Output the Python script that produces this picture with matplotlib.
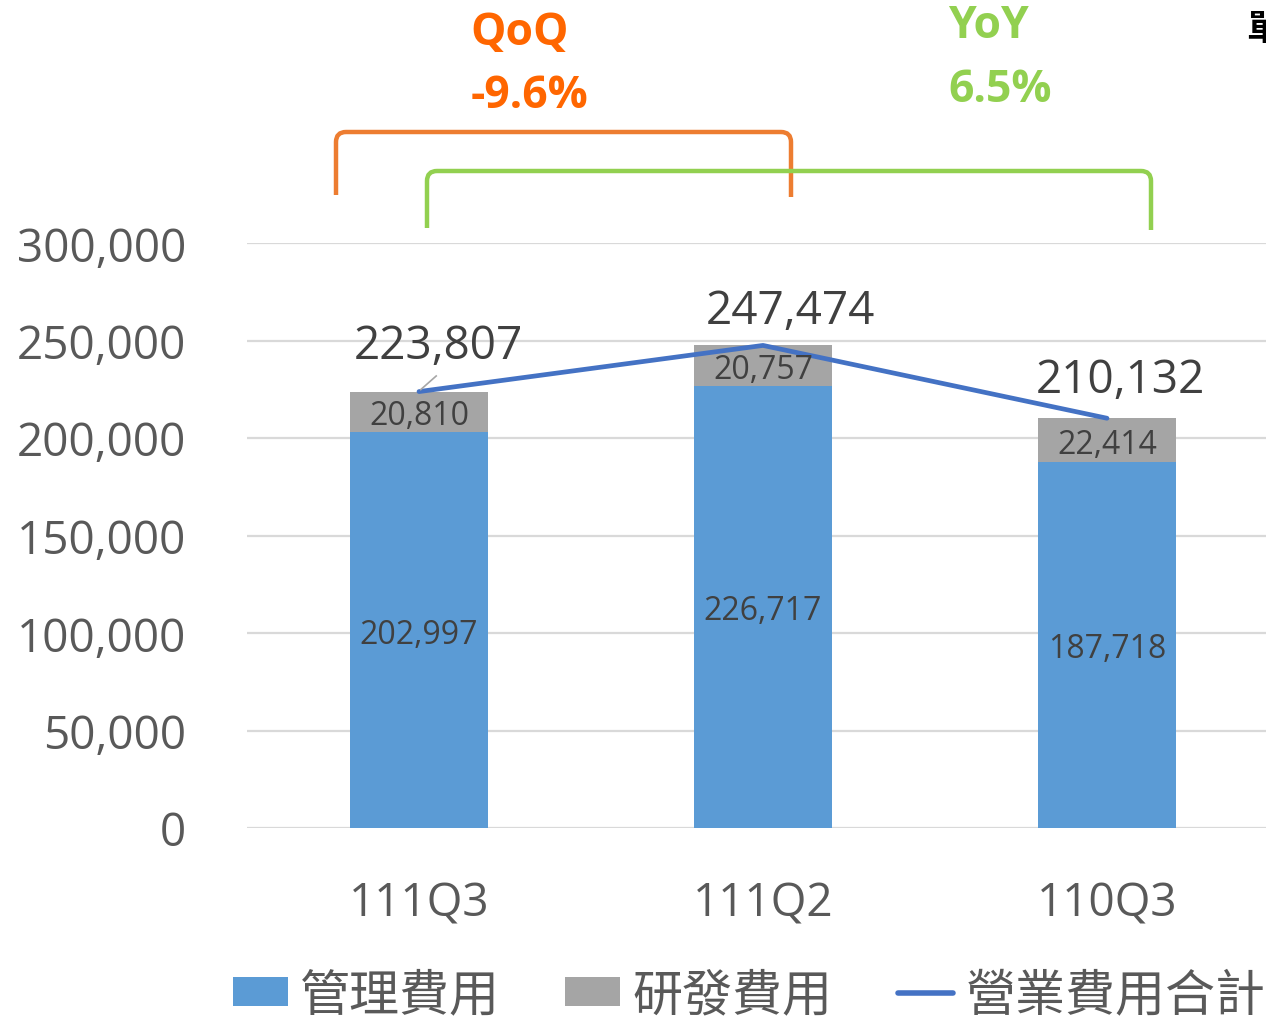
import matplotlib
matplotlib.use("Agg")
import matplotlib.pyplot as plt
from matplotlib.patches import Patch, PathPatch
from matplotlib.lines import Line2D
from matplotlib.path import Path
import numpy as np

plt.rcParams['font.family'] = ['Open Sans', 'Noto Sans CJK TC', 'DejaVu Sans']

categories = ["111Q3", "111Q2", "110Q3"]
admin_exp = [202997, 226717, 187718]
rd_exp = [20810, 20757, 22414]
totals = [223807, 247474, 210132]
yticks = [0, 50000, 100000, 150000, 200000, 250000, 300000]
legend_labels = ["管理費用", "研發費用", "營業費用合計"]
qoq_text = ["QoQ", "-9.6%"]
yoy_text = ["YoY", "6.5%"]

W, H = 1266, 1020
fig = plt.figure(figsize=(W / 100, H / 100), dpi=100)

def fx(x):
    return x / W

def fy(y):
    return 1 - y / H

ax = fig.add_axes([fx(247), fy(829), 1032 / W, 585 / H])
x = np.arange(len(categories))
blue = "#5B9BD5"
gray = "#A5A5A5"
linec = "#4472C4"
bw = 0.40

ax.bar(x, admin_exp, width=bw, color=blue, zorder=2)
ax.bar(x, rd_exp, width=bw, bottom=admin_exp, color=gray, zorder=2)
ax.plot(x, totals, color=linec, lw=3.4, zorder=4, solid_capstyle='round')

ax.set_xlim(-0.5, 2.5)
ax.set_ylim(0, 300000)
ax.set_yticks(yticks)
ax.set_yticklabels([f"{v:,}" for v in yticks])
ax.set_xticks(x)
ax.set_xticklabels(categories)
ax.tick_params(axis='both', length=0, labelsize=33, labelcolor="#595959")
ax.tick_params(axis='y', pad=44)
ax.tick_params(axis='x', pad=38)
ax.yaxis.grid(True, color="#D9D9D9", lw=1.6, zorder=0)
for s in ax.spines.values():
    s.set_visible(False)

lab_c = "#404040"
for i in range(len(categories)):
    ax.text(x[i], admin_exp[i] / 2, f"{admin_exp[i]:,}", ha='center', va='center_baseline',
            fontsize=23, color=lab_c, zorder=5)
    ax.text(x[i], admin_exp[i] + rd_exp[i] / 2, f"{rd_exp[i]:,}", ha='center', va='center_baseline',
            fontsize=23, color=lab_c, zorder=5)

# total labels
tot_offsets = [(0.055, 23500), (0.08, 17500), (0.04, 19500)]
for i in range(len(categories)):
    dx, dy = tot_offsets[i]
    ax.text(x[i] + dx, totals[i] + dy, f"{totals[i]:,}", ha='center', va='center',
            fontsize=33, color=lab_c, zorder=5)
# leader line for first label
ax.plot([x[0] + 0.005, x[0] + 0.05], [totals[0] + 1000, totals[0] + 8000],
        color="#A6A6A6", lw=1.2, zorder=5)

# brackets
def bracket(x0, x1, ytop, yb0, yb1, color, r=10):
    verts = [(fx(x0), fy(yb0)), (fx(x0), fy(ytop + r)), (fx(x0), fy(ytop)), (fx(x0 + r), fy(ytop)),
             (fx(x1 - r), fy(ytop)), (fx(x1), fy(ytop)), (fx(x1), fy(ytop + r)), (fx(x1), fy(yb1))]
    codes = [Path.MOVETO, Path.LINETO, Path.CURVE3, Path.CURVE3,
             Path.LINETO, Path.CURVE3, Path.CURVE3, Path.LINETO]
    p = PathPatch(Path(verts, codes), transform=fig.transFigure, fill=False,
                  edgecolor=color, lw=3.2, capstyle='butt', joinstyle='round')
    fig.add_artist(p)

bracket(336, 791, 133, 196, 198, "#ED7D31")
bracket(427, 1151, 172, 229, 231, "#92D050")

orange_t = "#FF6600"
green_t = "#92D050"
fig.text(fx(520), fy(33), qoq_text[0], ha='center', va='center', fontsize=32,
         fontweight='bold', color=orange_t)
fig.text(fx(530), fy(96), qoq_text[1], ha='center', va='center', fontsize=32,
         fontweight='bold', color=orange_t)
fig.text(fx(988), fy(27), yoy_text[0], ha='center', va='center', fontsize=32,
         fontweight='bold', color=green_t)
fig.text(fx(1000), fy(91), yoy_text[1], ha='center', va='center', fontsize=32,
         fontweight='bold', color=green_t)

fig.text(fx(1246), fy(30), "單位：千元", ha='left', va='center', fontsize=26,
         fontweight='bold', color="black", family=['Noto Sans CJK TC'])

handles = [Patch(facecolor=blue, edgecolor='none'),
           Patch(facecolor=gray, edgecolor='none'),
           Line2D([0], [0], color=linec, lw=4, solid_capstyle='round')]
leg = fig.legend(handles, legend_labels, loc='center', bbox_to_anchor=(fx(749), fy(996)),
                 ncol=3, frameon=False,
                 prop={'family': ['Noto Sans CJK TC'], 'size': 36},
                 handlelength=1.1, handleheight=0.5, handletextpad=0.25,
                 columnspacing=1.3, borderpad=0, borderaxespad=0)
for t in leg.get_texts():
    t.set_color("#595959")

fig.savefig("out.png", dpi=100)
